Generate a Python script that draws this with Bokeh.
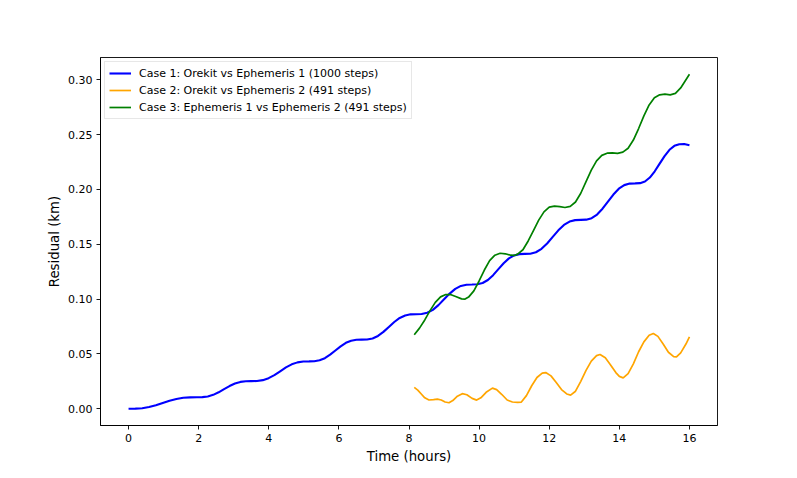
from bokeh.plotting import figure
from bokeh.models import Range1d, FixedTicker, NumeralTickFormatter, Legend, LegendItem
from bokeh.embed import file_html
from bokeh.resources import INLINE

# Case 1: Orekit vs Ephemeris 1 (1000 steps)
t1 = [0.0, 0.195, 0.39, 0.585, 0.78, 0.975, 1.17, 1.365, 1.56, 1.755,
      1.95, 2.105, 2.26, 2.415, 2.57, 2.725, 2.88, 3.035, 3.19, 3.345,
      3.5, 3.665, 3.83, 3.995, 4.16, 4.325, 4.49, 4.655, 4.82, 4.985,
      5.15, 5.30, 5.45, 5.60, 5.75, 5.90, 6.05, 6.20, 6.35, 6.50,
      6.65, 6.805, 6.96, 7.115, 7.27, 7.425, 7.58, 7.735, 7.89, 8.045,
      8.2, 8.36, 8.52, 8.68, 8.84, 9.0, 9.16, 9.32, 9.48, 9.64,
      9.8, 9.95, 10.1, 10.25, 10.4, 10.55, 10.7, 10.85, 11.0, 11.15,
      11.3, 11.46, 11.62, 11.78, 11.94, 12.1, 12.26, 12.42, 12.58, 12.74,
      12.9, 13.055, 13.21, 13.365, 13.52, 13.675, 13.83, 13.985, 14.14, 14.295,
      14.45, 14.59, 14.73, 14.87, 15.01, 15.15, 15.29, 15.43, 15.57, 15.71,
      15.85, 16.0]
r1 = [0.0000, 0.0001, 0.0005, 0.0016, 0.0032, 0.0053, 0.0073, 0.0089, 0.0100, 0.0104,
      0.0105, 0.0106, 0.0112, 0.0127, 0.0150, 0.0179, 0.0207, 0.0230, 0.0245, 0.0251,
      0.0252, 0.0253, 0.0261, 0.0279, 0.0307, 0.0342, 0.0377, 0.0405, 0.0423, 0.0431,
      0.0432, 0.0433, 0.0442, 0.0461, 0.0493, 0.0531, 0.0569, 0.0601, 0.0620, 0.0629,
      0.0630, 0.0631, 0.0641, 0.0664, 0.0701, 0.0746, 0.0791, 0.0828, 0.0851, 0.0861,
      0.0862, 0.0864, 0.0875, 0.0902, 0.0945, 0.0998, 0.1050, 0.1093, 0.1120, 0.1131,
      0.1133, 0.1135, 0.1147, 0.1174, 0.1218, 0.1273, 0.1327, 0.1371, 0.1398, 0.1410,
      0.1412, 0.1414, 0.1427, 0.1458, 0.1507, 0.1567, 0.1627, 0.1676, 0.1707, 0.1720,
      0.1722, 0.1724, 0.1738, 0.1771, 0.1824, 0.1889, 0.1953, 0.2006, 0.2039, 0.2053,
      0.2055, 0.2057, 0.2072, 0.2108, 0.2165, 0.2235, 0.2304, 0.2361, 0.2397, 0.2412,
      0.2414, 0.2402]

# Case 2: Orekit vs Ephemeris 2 (491 steps)
t2 = [8.15, 8.25, 8.35, 8.45, 8.57, 8.7, 8.81, 8.92, 9.03, 9.14, 9.25, 9.38, 9.52, 9.65,
      9.8, 9.93, 10.05, 10.2, 10.38, 10.5, 10.65, 10.8, 10.95, 11.1, 11.2, 11.35, 11.5,
      11.65, 11.8, 11.9, 12.05, 12.2, 12.35, 12.5, 12.61, 12.75, 12.9, 13.05, 13.2,
      13.35, 13.45, 13.6, 13.75, 13.9, 14.0, 14.11, 14.25, 14.4, 14.55, 14.7, 14.85,
      14.97, 15.1, 15.25, 15.4, 15.55, 15.63, 15.75, 15.9, 16.0]
r2 = [0.0195, 0.0170, 0.0135, 0.0100, 0.0080, 0.0083, 0.0088, 0.0080, 0.0062, 0.0055,
      0.0075, 0.0115, 0.0138, 0.0128, 0.0095, 0.0079, 0.0100, 0.0150, 0.0188, 0.0175,
      0.0130, 0.0080, 0.0062, 0.0058, 0.0060, 0.0120, 0.0210, 0.0285, 0.0325, 0.0330,
      0.0300, 0.0240, 0.0175, 0.0135, 0.0125, 0.0160, 0.0250, 0.0350, 0.0435, 0.0485,
      0.0495, 0.0465, 0.0400, 0.0330, 0.0295, 0.0282, 0.0320, 0.0410, 0.0520, 0.0610,
      0.0670, 0.0687, 0.0660, 0.0590, 0.0515, 0.0476, 0.0473, 0.0510, 0.0590, 0.0655]

# Case 3: Ephemeris 1 vs Ephemeris 2 (491 steps)
t3 = [8.15, 8.3, 8.45, 8.6, 8.75, 8.9, 9.05, 9.2, 9.35, 9.5, 9.6, 9.7, 9.85, 10.0,
      10.15, 10.3, 10.45, 10.6, 10.75, 10.9, 11.0, 11.1, 11.25, 11.4, 11.55, 11.7,
      11.85, 12.0, 12.15, 12.3, 12.45, 12.6, 12.75, 12.9, 13.05, 13.2, 13.35, 13.5,
      13.65, 13.8, 13.95, 14.1, 14.25, 14.4, 14.55, 14.7, 14.85, 15.0, 15.15, 15.3,
      15.45, 15.6, 15.75, 15.9, 16.0]
r3 = [0.0675, 0.0735, 0.0810, 0.0895, 0.0970, 0.1020, 0.1042, 0.1040, 0.1022, 0.1002,
      0.1000, 0.1018, 0.1075, 0.1165, 0.1265, 0.1350, 0.1400, 0.1418, 0.1413, 0.1400,
      0.1398, 0.1410, 0.1450, 0.1530, 0.1625, 0.1720, 0.1795, 0.1838, 0.1848, 0.1843,
      0.1835, 0.1845, 0.1885, 0.1965, 0.2070, 0.2175, 0.2260, 0.2310, 0.2330, 0.2333,
      0.2328, 0.2340, 0.2375, 0.2450, 0.2555, 0.2670, 0.2770, 0.2835, 0.2862, 0.2868,
      0.2862, 0.2875, 0.2925, 0.3000, 0.3050]

labels = ["Case 1: Orekit vs Ephemeris 1 (1000 steps)",
          "Case 2: Orekit vs Ephemeris 2 (491 steps)",
          "Case 3: Ephemeris 1 vs Ephemeris 2 (491 steps)"]
x_ticks = [0, 2, 4, 6, 8, 10, 12, 14, 16]
y_ticks = [0.0, 0.05, 0.10, 0.15, 0.20, 0.25, 0.30]

FONT = "DejaVu Sans"

p = figure(width=789, height=470, output_backend="svg", toolbar_location=None,
           x_range=Range1d(-0.8, 16.8), y_range=Range1d(-0.01525, 0.32025),
           min_border_left=100, min_border_right=72, min_border_top=57, min_border_bottom=45)
p.background_fill_color = "white"
p.border_fill_color = "white"
p.grid.visible = False
p.outline_line_color = "black"
p.outline_line_width = 0.9

l1 = p.line(t1, r1, line_color="blue", line_width=2.1)
l2 = p.line(t2, r2, line_color="orange", line_width=1.7)
l3 = p.line(t3, r3, line_color="green", line_width=1.7)

for ax in (p.xaxis[0], p.yaxis[0]):
    ax.axis_line_color = "black"
    ax.axis_line_width = 0.9
    ax.major_tick_line_width = 0.9
    ax.major_tick_out = 4
    ax.major_tick_in = 0
    ax.minor_tick_out = 0
    ax.minor_tick_in = 0
    ax.major_label_text_font = FONT
    ax.major_label_text_font_size = "11px"
    ax.major_label_text_color = "black"
    ax.major_label_standoff = 4
    ax.axis_label_text_font = FONT
    ax.axis_label_text_font_size = "13.3px"
    ax.axis_label_text_font_style = "normal"
    ax.axis_label_text_color = "black"

p.xaxis[0].ticker = FixedTicker(ticks=x_ticks)
p.yaxis[0].ticker = FixedTicker(ticks=y_ticks)
p.yaxis[0].formatter = NumeralTickFormatter(format="0.00")
p.xaxis[0].axis_label = "Time (hours)"
p.yaxis[0].axis_label = "Residual (km)"
p.xaxis[0].axis_label_standoff = 4
p.yaxis[0].axis_label_standoff = 3

legend = Legend(items=[LegendItem(label=labels[0], renderers=[l1]),
                       LegendItem(label=labels[1], renderers=[l2]),
                       LegendItem(label=labels[2], renderers=[l3])],
                location="top_left")
legend.margin = 4
legend.padding = 4
legend.spacing = 3
legend.glyph_width = 22
legend.glyph_height = 14
legend.label_height = 14
legend.label_standoff = 8
legend.label_text_font = FONT
legend.label_text_font_size = "11px"
legend.label_text_color = "black"
legend.border_line_color = "#d0d0d0"
legend.border_line_width = 1
legend.background_fill_color = "white"
legend.background_fill_alpha = 0.8
p.add_layout(legend, "center")

open("out.html", "w").write(file_html(p, INLINE))
